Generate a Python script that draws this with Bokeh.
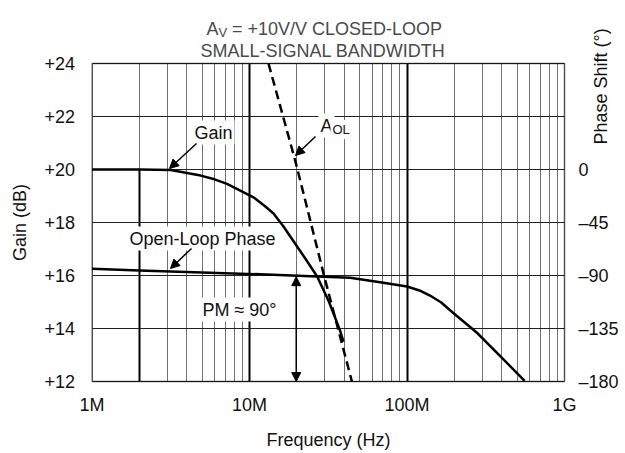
import math
from bokeh.plotting import figure
from bokeh.models import (Range1d, LinearAxis, FixedTicker, Grid, Label, Arrow,
                          NormalHead, BoxAnnotation)
from bokeh.embed import file_html
from bokeh.resources import INLINE

# ---- data ----
gain_freq = [1e6, 2e6, 3.16e6, 4.9e6, 6e6, 7.2e6, 10.6e6, 12.5e6, 14.2e6, 16.4e6, 18.9e6,
             22.6e6, 26.9e6, 32e6, 37.6e6, 39.5e6]
gain_db = [20.0, 20.0, 19.98, 19.77, 19.63, 19.46, 18.95, 18.62, 18.34, 17.86, 17.32,
           16.64, 15.96, 15.0, 13.92, 13.5]

aol_freq = [13.2e6, 19.5e6, 22.6e6, 29.9e6, 44.7e6]
aol_db = [24.0, 20.34, 18.83, 15.94, 12.0]

phase_freq = [1e6, 2e6, 11.7e6, 26.9e6, 43.5e6, 67.5e6, 100e6, 120e6, 140e6, 165e6, 195e6,
              277e6, 388e6, 558e6]
phase_deg = [-84.3, -85.7, -89.0, -90.8, -92.0, -95.7, -99.3, -102.7, -107.0, -112.9, -121.4,
             -138.4, -158.0, -179.5]

x_ticks = [1e6, 1e7, 1e8, 1e9]
x_tick_labels = ["1M", "10M", "100M", "1G"]
gain_ticks = [12, 14, 16, 18, 20, 22, 24]
gain_tick_labels = ["+12", "+14", "+16", "+18", "+20", "+22", "+24"]
phase_ticks = [-180, -135, -90, -45, 0]
phase_tick_labels = ["\u2013180", "\u2013135", "\u201390", "\u201345", "0"]
pm_freq = 19.8e6
pm_phase = [-91, -180]

# ---- layout helpers: canvas pixel -> data coordinate (for placing annotations) ----
X0, DEC = 91.5, 157.5      # canvas x of 1M, px per decade
Y0, PXDB = 381.0, 26.5     # canvas y of +12 dB, px per dB
DEG_PER_DB = 22.5

def fx(px):
    return 10 ** (6 + (px - X0) / DEC)

def fy(py):
    return 12 + (Y0 - py) / PXDB

def to_phase(g):
    return -180 + (g - 12) * DEG_PER_DB

W, H = 625, 453
FONT = "Liberation Sans"
FS = "18px"
TXT = "#111111"

p = figure(width=W, height=H, x_axis_type="log",
           x_range=Range1d(fx(0), fx(W)), y_range=Range1d(fy(H), fy(0)),
           output_backend="svg", toolbar_location=None, min_border=0)
p.extra_y_ranges = {"phase": Range1d(to_phase(fy(H)), to_phase(fy(0)))}
p.outline_line_color = None
p.grid.visible = False
p.background_fill_color = "white"
p.border_fill_color = "white"

def style_axis(ax):
    ax.major_tick_out = 0
    ax.major_tick_in = 0
    ax.minor_tick_out = 0
    ax.minor_tick_in = 0
    ax.axis_line_color = None
    ax.major_label_text_font = FONT
    ax.major_label_text_font_size = FS
    ax.major_label_text_color = TXT
    ax.axis_label_text_font = FONT
    ax.axis_label_text_font_size = FS
    ax.axis_label_text_font_style = "normal"
    ax.axis_label_text_color = TXT

xa = p.xaxis[0]
xa.ticker = FixedTicker(ticks=x_ticks)
xa.major_label_overrides = dict(zip(x_ticks, x_tick_labels))
xa.axis_label = "Frequency (Hz)"
xa.fixed_location = gain_ticks[0]
xa.bounds = (x_ticks[0], x_ticks[-1])
xa.major_label_standoff = 13
xa.axis_label_standoff = 12
style_axis(xa)

ya = p.yaxis[0]
ya.ticker = FixedTicker(ticks=gain_ticks)
ya.major_label_overrides = dict(zip(gain_ticks, gain_tick_labels))
ya.axis_label = "Gain (dB)"
ya.fixed_location = x_ticks[0]
ya.bounds = (gain_ticks[0], gain_ticks[-1])
ya.major_label_standoff = 17
ya.axis_label_standoff = 12
style_axis(ya)

ra = LinearAxis(y_range_name="phase", ticker=FixedTicker(ticks=phase_ticks),
                major_label_overrides=dict(zip(phase_ticks, phase_tick_labels)),
                fixed_location=x_ticks[-1], bounds=(phase_ticks[0], phase_ticks[-1]))
ra.major_label_standoff = 14
style_axis(ra)
p.add_layout(ra, "right")

# grids, bounded to the plot box
x_grid = [m * 10 ** e for e in (6, 7, 8) for m in range(1, 10)] + [1e9]
gbox_y = (gain_ticks[0], gain_ticks[-1])
gbox_x = (x_ticks[0], x_ticks[-1])
p.add_layout(Grid(dimension=0, ticker=FixedTicker(ticks=x_grid), cross_bounds=gbox_y,
                  grid_line_color="#707070", grid_line_width=1))
p.add_layout(Grid(dimension=0, ticker=FixedTicker(ticks=[1e7, 1e8]), cross_bounds=gbox_y,
                  grid_line_color="#000000", grid_line_width=2))
p.add_layout(Grid(dimension=0, ticker=FixedTicker(ticks=[2e6]), cross_bounds=(12, 20),
                  grid_line_color="#000000", grid_line_width=2))
p.add_layout(Grid(dimension=1, ticker=FixedTicker(ticks=gain_ticks), cross_bounds=gbox_x,
                  grid_line_color="#202020", grid_line_width=1))
p.add_layout(BoxAnnotation(left=gbox_x[0], right=gbox_x[1], bottom=gbox_y[0], top=gbox_y[1],
                           fill_color=None, line_color="black", line_width=2))

# curves
p.line(gain_freq, gain_db, line_color="black", line_width=2.5, line_join="round")
p.line(aol_freq, aol_db, line_color="black", line_width=2.5, line_dash="9 5")
p.line(phase_freq, phase_deg, line_color="black", line_width=2.5, line_join="round",
       y_range_name="phase")

def lab(px, py, text, align="center", baseline="middle", size=FS, color=TXT,
        xo=0, yo=0, bg="white", angle=0.0):
    l = Label(x=fx(px), y=fy(py), text=text, text_align=align, text_baseline=baseline,
              text_font=FONT, text_font_size=size, text_color=color,
              x_offset=xo, y_offset=yo, angle=angle,
              background_fill_color=bg, padding=2 if bg else 0)
    p.add_layout(l)
    return l

# title
TC = "#4a4a4a"
lab(206, 28, "A", align="left", baseline="alphabetic", color=TC, bg=None)
lab(206, 28, "V", align="left", baseline="alphabetic", size="13px", color=TC,
    xo=12, yo=-4, bg=None)
lab(206, 28, "= +10V/V CLOSED-LOOP", align="left", baseline="alphabetic",
    color=TC, xo=25.5, bg=None)
lab(322.5, 50, "SMALL-SIGNAL BANDWIDTH", baseline="alphabetic", color=TC, bg=None)

# right axis title
lab(600, 86, "Phase Shift (\u00b0)", angle=math.pi / 2, bg=None)

# curve labels
lab(213, 132, "Gain")
lab(318, 125, "A", align="left", baseline="alphabetic")
lab(318, 125, "OL", align="left", baseline="alphabetic", size="13px", xo=12, yo=-4)
lab(202, 238, "Open-Loop Phase")
lab(239, 309, "PM \u2248 90\u00b0")

def head():
    return NormalHead(size=9, fill_color="black", line_color="black", line_width=1)

def arrow(p0, p1, **kw):
    p.add_layout(Arrow(x_start=fx(p0[0]), y_start=fy(p0[1]), x_end=fx(p1[0]), y_end=fy(p1[1]),
                       end=head(), line_width=1.5, **kw))

arrow((196, 143), (169, 168))
arrow((315, 136), (295, 155))
arrow((191, 248), (170, 268))
p.add_layout(Arrow(x_start=pm_freq, y_start=pm_phase[0], x_end=pm_freq, y_end=pm_phase[1],
                   start=head(), end=head(), line_width=1.5, y_range_name="phase"))

open("out.html", "w").write(file_html(p, INLINE))
